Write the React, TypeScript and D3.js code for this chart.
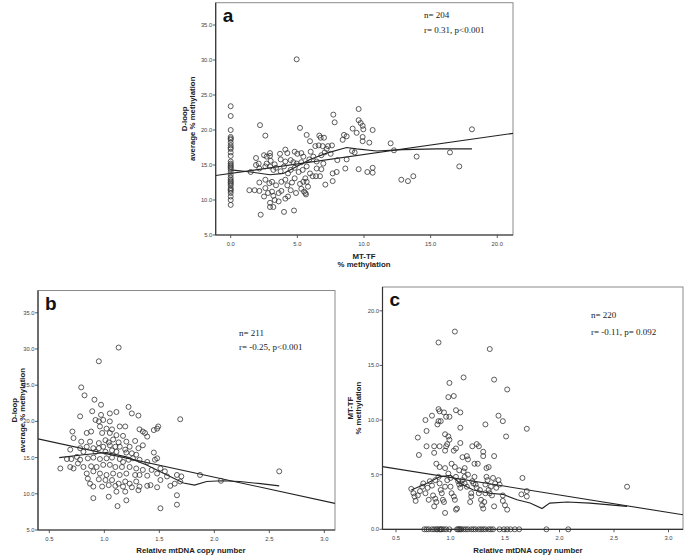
import * as d3 from "d3";

type Pt = [number, number];

// ---- panel a: D-loop vs MT-TF methylation ----
const mttfZero = [23.4, 22.0, 20.0, 19.0, 18.8, 18.6, 18.2, 17.8, 17.5, 17.3, 16.8, 16.3, 15.5, 15.2, 15.0,
  14.8, 14.6, 14.4, 14.0, 13.6, 13.2, 12.9, 12.7, 12.5, 12.3, 12.1, 11.7, 11.5, 11.3, 11.0, 10.5, 10.0, 9.3];

const dloopVsMttf: Pt[] = [
  [2.95, 16.7], [3.7, 16.6], [4.1, 17.2], [4.25, 16.7], [4.8, 16.9], [5.0, 16.6], [5.3, 16.7], [5.45, 16.2],
  [6.0, 16.9], [6.35, 17.7], [6.6, 17.8], [6.9, 17.7], [7.05, 16.8], [7.2, 17.3],
  [1.9, 16.0], [2.5, 16.4], [2.7, 16.2], [2.95, 16.3], [2.1, 15.2], [2.7, 15.2], [3.0, 15.6], [3.3, 15.1],
  [3.75, 15.8], [4.1, 15.5], [4.5, 15.7], [4.7, 15.4], [4.95, 15.2], [5.3, 15.4], [5.9, 15.8], [6.2, 16.2], [6.45, 15.5],
  [1.9, 15.0], [2.15, 14.5], [2.6, 14.8], [2.95, 14.8], [3.2, 14.3], [3.4, 14.6], [3.75, 14.1], [4.0, 14.8],
  [4.3, 13.8], [4.5, 14.3], [4.8, 14.6], [5.1, 14.0], [5.4, 14.3], [5.7, 14.8], [5.95, 13.8], [6.15, 13.4],
  [6.45, 14.5], [6.8, 14.4],
  [2.15, 12.5], [2.6, 12.9], [2.9, 12.4], [3.1, 12.6], [3.4, 12.1], [3.8, 12.6], [4.1, 12.9], [4.25, 12.1],
  [4.6, 12.5], [4.8, 13.1], [5.2, 12.3], [5.45, 12.6], [5.6, 13.1],
  [1.4, 11.4], [1.8, 11.4], [2.15, 11.3], [2.6, 11.7], [2.8, 11.0], [3.1, 11.2], [3.2, 10.6], [3.6, 11.0],
  [3.8, 11.3], [4.1, 10.2], [4.3, 10.5], [4.5, 11.4], [4.9, 11.0], [5.3, 11.6], [5.5, 11.2], [5.65, 10.8],
  [2.95, 9.6], [3.2, 9.0], [3.3, 10.0], [3.6, 9.8], [4.0, 8.3], [4.75, 8.5], [2.25, 7.9], [1.5, 14.0],
  [4.95, 30.1], [2.2, 20.7], [2.6, 19.2], [5.2, 20.3], [5.7, 19.3], [5.95, 18.4], [6.65, 19.2], [6.75, 18.9],
  [7.0, 18.9], [7.7, 22.2], [7.8, 21.1], [8.5, 19.3], [8.7, 19.1], [8.4, 18.6], [9.6, 23.0], [9.6, 21.4],
  [9.75, 21.0], [9.9, 20.6], [9.95, 20.1], [9.15, 20.2], [9.45, 19.6], [10.65, 20.0], [9.9, 19.0], [9.9, 18.4],
  [10.4, 18.2], [12.0, 18.1], [12.25, 17.1], [18.1, 20.1], [16.45, 16.8], [17.15, 14.8], [13.95, 16.2],
  [13.7, 13.4], [13.3, 12.7], [12.8, 12.9], [10.65, 14.6], [10.65, 13.9], [10.25, 14.0], [9.6, 14.4],
  [9.1, 17.0], [9.3, 16.8], [7.6, 17.8], [7.3, 17.7], [7.65, 13.8], [7.95, 14.0], [7.65, 12.7], [7.1, 12.2],
  [6.7, 13.4], [6.4, 13.4], [8.0, 15.7], [8.7, 15.8], [8.6, 14.5], [6.8, 16.4], [5.7, 12.6], [5.8, 11.9],
  [5.6, 11.0], [7.5, 16.6], [6.95, 15.2], [2.5, 10.5], [2.95, 9.0],
];

const loessA: Pt[] = [
  [0, 14.3], [1.5, 14.0], [2.95, 13.6], [3.95, 13.8], [4.95, 14.8], [5.95, 15.8], [7.2, 16.7], [8.7, 17.5],
  [9.45, 17.3], [10.95, 17.0], [12.95, 17.2], [15.45, 17.3], [18.1, 17.3],
];

// ---- panel b: D-loop vs relative mtDNA copy number ----
const dloopVsCopy: Pt[] = [
  [0.79, 24.7], [0.82, 23.6], [0.91, 23.0], [0.97, 22.3],
  [0.78, 20.7], [0.89, 21.4], [0.97, 20.9], [1.05, 21.1], [1.11, 21.3], [1.22, 22.0], [1.25, 21.1], [1.31, 20.8],
  [0.92, 20.2], [0.95, 20.0], [0.99, 20.2], [1.05, 20.0], [0.96, 19.3], [1.02, 19.0], [1.07, 18.9], [1.14, 19.3],
  [1.19, 19.3], [1.32, 18.9], [1.35, 18.6], [1.45, 18.8], [1.49, 19.3], [1.48, 19.0], [1.69, 20.3], [0.71, 18.6],
  [0.84, 18.4], [0.88, 18.6], [0.98, 18.4], [1.05, 18.4], [1.11, 18.1], [1.17, 18.0], [1.37, 18.4], [1.39, 17.9],
  [0.72, 17.7], [0.79, 17.2], [0.87, 17.2], [0.95, 17.0], [1.01, 17.4], [1.04, 17.1], [1.08, 17.5], [1.13, 17.1],
  [1.20, 17.2], [1.28, 17.3], [0.78, 16.3], [0.84, 16.5], [0.90, 16.3], [0.95, 16.3], [0.99, 16.5], [1.05, 16.7],
  [1.10, 16.5], [1.14, 16.5], [1.19, 16.1], [1.23, 16.5], [1.31, 16.3], [1.35, 16.7], [0.69, 16.1], [0.81, 15.8],
  [0.92, 15.8], [1.01, 15.8], [1.07, 16.0], [1.11, 15.8], [1.20, 15.7], [1.25, 15.6], [1.29, 15.4], [1.45, 15.7],
  [1.48, 14.9],
  [0.60, 13.5], [0.66, 14.8], [0.70, 14.8], [0.75, 15.1], [0.78, 14.7], [0.85, 14.9], [0.90, 15.0], [0.96, 14.8],
  [1.02, 14.9], [1.07, 15.0], [1.14, 14.8], [1.17, 14.4], [1.22, 14.7], [1.26, 14.9], [1.32, 14.7], [1.39, 14.4],
  [1.46, 14.7], [0.69, 13.7], [0.72, 13.5], [0.76, 14.2], [0.81, 13.7], [0.88, 13.8], [0.93, 13.7], [0.99, 14.0],
  [1.05, 14.0], [1.10, 13.7], [1.16, 13.7], [1.23, 13.7], [1.29, 13.5], [1.35, 13.3], [1.43, 13.3], [1.51, 13.5],
  [1.55, 13.1], [0.84, 12.8], [0.90, 13.1], [0.96, 12.8], [1.02, 12.6], [1.08, 12.8], [1.14, 12.6], [1.20, 12.8],
  [1.28, 12.6], [1.32, 12.6], [1.39, 12.5], [1.48, 12.8], [1.57, 12.4], [1.66, 12.6], [1.70, 12.4],
  [0.85, 12.1], [0.87, 11.4], [0.95, 12.0], [1.01, 11.9], [1.07, 11.9], [1.13, 11.4], [1.19, 11.7], [1.23, 11.4],
  [1.29, 11.7], [1.32, 11.0], [1.39, 11.1], [0.90, 11.0], [0.98, 11.0], [1.04, 11.2], [1.10, 11.1], [1.17, 11.0],
  [1.25, 10.9], [1.31, 10.5], [1.42, 11.2], [1.48, 10.9], [1.51, 11.9], [1.60, 11.1], [1.64, 11.4], [1.69, 11.7],
  [0.90, 9.4], [1.04, 9.6], [1.11, 10.3], [1.20, 9.1], [1.19, 10.3], [1.66, 9.8], [1.12, 8.3], [1.51, 8.0],
  [1.66, 8.5],
  [1.13, 30.2], [0.95, 28.3], [1.87, 12.6], [2.06, 11.8], [2.59, 13.1],
];

const loessB: Pt[] = [
  [0.59, 15.0], [0.81, 15.4], [1.02, 15.7], [1.2, 15.1], [1.38, 14.0], [1.57, 12.6], [1.72, 11.5],
  [1.82, 11.2], [1.93, 11.7], [2.07, 11.8], [2.23, 11.7], [2.42, 11.4], [2.59, 11.1],
];

// ---- panel c: MT-TF vs relative mtDNA copy number ----
const mttfZeroCopy = [0.76, 0.78, 0.80, 0.83, 0.85, 0.87, 0.88, 0.90, 0.91, 0.92, 0.94, 0.96, 0.99, 1.06, 1.07,
  1.08, 1.09, 1.10, 1.12, 1.14, 1.16, 1.19, 1.21, 1.23, 1.26, 1.28, 1.30, 1.32, 1.35, 1.37, 1.39, 1.45, 1.49,
  1.52, 1.55, 1.59, 1.63, 1.88, 2.08];

const mttfVsCopy: Pt[] = [
  [1.04, 18.1], [0.89, 17.1], [1.36, 16.5], [1.12, 13.9], [1.40, 13.7], [0.99, 13.4], [1.52, 12.8], [0.98, 12.1],
  [1.03, 12.2], [0.89, 11.0], [0.90, 10.8], [0.94, 10.7], [1.05, 10.9], [1.09, 10.7], [0.77, 10.0], [0.83, 10.4],
  [0.89, 9.9], [0.91, 9.9], [0.88, 9.6], [0.96, 10.3], [0.99, 10.3], [0.78, 9.0], [1.09, 9.3], [1.32, 9.6],
  [1.44, 10.4], [1.48, 9.9], [1.70, 9.2], [0.70, 8.4], [0.95, 8.7], [0.98, 8.5], [0.99, 8.2], [1.51, 8.5],
  [0.78, 7.6], [0.85, 7.6], [0.90, 7.6], [0.96, 7.6], [0.97, 7.8], [0.71, 6.8], [0.85, 7.0], [0.95, 7.2],
  [1.03, 7.2], [1.09, 7.9], [1.05, 7.4], [1.20, 7.6], [1.24, 7.8], [1.26, 7.6], [1.30, 7.1], [1.30, 6.7],
  [1.40, 6.7], [1.11, 6.6], [1.15, 6.7], [1.16, 6.4], [1.22, 6.0], [1.25, 6.0], [1.33, 5.6], [1.35, 5.7],
  [1.66, 4.7], [1.70, 3.5], [1.70, 3.0], [1.65, 3.2], [1.48, 2.6], [1.50, 2.2], [1.52, 1.8], [1.40, 2.1],
  [0.95, 1.5], [1.05, 1.8], [0.85, 2.1], [2.62, 3.9],
  [0.87, 6.0], [0.90, 5.7], [0.95, 5.6], [1.01, 6.0], [1.04, 5.7], [1.08, 5.4], [1.13, 5.6],
  [0.64, 3.7], [0.66, 3.3], [0.67, 3.0], [0.68, 2.6], [0.70, 3.1], [0.72, 3.5], [0.74, 3.9], [0.75, 4.2],
  [0.77, 3.3], [0.79, 3.8], [0.80, 2.7], [0.81, 4.4], [0.83, 4.0], [0.84, 3.1], [0.86, 2.8], [0.87, 2.5],
  [0.86, 4.5], [0.89, 4.8], [0.90, 4.2], [0.91, 3.6], [0.92, 3.3], [0.93, 2.7], [0.94, 2.5], [0.95, 3.9],
  [0.97, 4.5], [0.98, 5.1], [1.00, 4.7], [1.00, 3.9], [1.01, 3.3], [1.03, 3.0], [1.04, 2.7], [1.06, 1.9],
  [1.05, 4.8], [1.07, 4.4], [1.08, 4.1], [1.09, 3.8], [1.10, 4.2], [1.11, 4.5], [1.12, 5.3], [1.13, 4.8],
  [1.13, 4.2], [1.15, 3.9], [1.16, 5.0], [1.18, 2.5], [1.19, 3.3], [1.19, 3.0], [1.20, 4.4], [1.21, 4.2],
  [1.22, 4.8], [1.23, 4.1], [1.24, 3.8], [1.26, 3.3], [1.27, 3.6], [1.28, 2.7], [1.29, 2.2], [1.30, 1.9],
  [1.31, 2.5], [1.32, 3.3], [1.33, 4.8], [1.34, 4.5], [1.35, 3.6], [1.36, 3.3], [1.37, 3.9], [1.38, 3.1],
  [1.39, 4.7], [1.41, 4.2], [1.42, 3.8], [1.44, 4.5], [1.45, 4.1], [1.48, 3.1], [1.32, 4.1],
];

const loessC: Pt[] = [
  [0.64, 3.6], [0.78, 4.2], [0.9, 4.8], [1.0, 4.95], [1.09, 4.2], [1.21, 3.6], [1.36, 3.3], [1.48, 3.2],
  [1.61, 2.7], [1.73, 2.4], [1.84, 1.9], [1.91, 2.4], [2.07, 2.5], [2.28, 2.4], [2.62, 2.1],
];

// linear fits: [intercept, slope]
const fitA = [13.8, 0.27];
const fitB = [18.9, -3.3];
const fitC = [6.34, -1.6];

const yTicksDloop = [5, 10, 15, 20, 25, 30, 35];
const xTicksMttf = [0, 5, 10, 15, 20];
const xTicksCopy = [0.5, 1, 1.5, 2, 2.5, 3];
const yTicksMttf = [0, 5, 10, 15, 20];

const fmt = d3.format(".1f");
const SANS = "'Liberation Sans', Arial, sans-serif";
const SERIF = "'Liberation Serif', 'Times New Roman', serif";

type PanelProps = {
  box: { l: number; r: number; t: number; b: number };
  xDomain: [number, number];
  yDomain: [number, number];
  xTicks: number[];
  yTicks: number[];
  points: Pt[];
  fit: number[];
  loess: Pt[];
  letter: string;
  stats: string[];
  statsPos: [number, number, number];
  yTitle: string[];
  yTitleOff: [number, number];
  xTitle: string[];
  xTitleX: number;
  xTitleY: number[];
};

const Panel = (p: PanelProps) => {
  const { box } = p;
  const x = d3.scaleLinear().domain(p.xDomain).range([box.l, box.r]);
  const y = d3.scaleLinear().domain(p.yDomain).range([box.b, box.t]);
  const line = d3.line<Pt>().x((d) => x(d[0])).y((d) => y(d[1]));
  const fitPts: Pt[] = p.xDomain.map((v) => [v, p.fit[0] + p.fit[1] * v] as Pt);
  const yMid = (box.t + box.b) / 2;

  return (
    <g>
      <rect x={box.l} y={box.t} width={box.r - box.l} height={box.b - box.t} fill="white" stroke="#8a8a8a" strokeWidth={1} />
      <clipPath id={`clip-${p.letter}`}>
        <rect x={box.l} y={box.t} width={box.r - box.l} height={box.b - box.t} />
      </clipPath>
      <g clipPath={`url(#clip-${p.letter})`}>
        <path d={line(fitPts) ?? ""} fill="none" stroke="#222" strokeWidth={1.1} />
        <path d={line(p.loess) ?? ""} fill="none" stroke="#222" strokeWidth={1.1} />
      </g>
      {p.points.map((d, i) => (
        <circle key={i} cx={x(d[0])} cy={y(d[1])} r={2.5} fill="none" stroke="#333" strokeWidth={0.8} />
      ))}
      <line x1={box.l} x2={box.l} y1={box.t} y2={box.b} stroke="#333" strokeWidth={1.2} />
      <line x1={box.l} x2={box.r} y1={box.b} y2={box.b} stroke="#333" strokeWidth={1.2} />
      {p.yTicks.map((t) => (
        <g key={t}>
          <line x1={box.l - 3} x2={box.l} y1={y(t)} y2={y(t)} stroke="#333" strokeWidth={0.8} />
          <text x={box.l - 3.5} y={y(t) + 2} textAnchor="end" fontSize={5.8} fontFamily={SANS} fill="#444">
            {fmt(t)}
          </text>
        </g>
      ))}
      {p.xTicks.map((t) => (
        <g key={t}>
          <line x1={x(t)} x2={x(t)} y1={box.b} y2={box.b + 3} stroke="#333" strokeWidth={0.8} />
          <text x={x(t)} y={box.b + 10.5} textAnchor="middle" fontSize={5.8} fontFamily={SANS} fill="#444">
            {fmt(t)}
          </text>
        </g>
      ))}
      <text x={box.l + 7} y={box.t + 19} fontSize={19} fontWeight="bold" fontFamily={SANS} fill="#111">
        {p.letter}
      </text>
      {p.stats.map((s, i) => (
        <text key={s} x={p.statsPos[0]} y={p.statsPos[1] + i * p.statsPos[2]} fontSize={9} fontFamily={SERIF} fill="#222">
          {s}
        </text>
      ))}
      {p.yTitle.map((s, i) => (
        <text
          key={s}
          transform={`translate(${box.l + p.yTitleOff[i]},${yMid}) rotate(-90)`}
          textAnchor="middle"
          fontSize={7.8}
          fontWeight="bold"
          fontFamily={SANS}
          fill="#222"
        >
          {s}
        </text>
      ))}
      {p.xTitle.map((s, i) => (
        <text key={s} x={p.xTitleX} y={p.xTitleY[i]} textAnchor="middle" fontSize={7.8} fontWeight="bold" fontFamily={SANS} fill="#222">
          {s}
        </text>
      ))}
    </g>
  );
};

export default function App() {
  const pointsA: Pt[] = [...mttfZero.map((v) => [0, v] as Pt), ...dloopVsMttf];
  const pointsC: Pt[] = [...mttfZeroCopy.map((v) => [v, 0] as Pt), ...mttfVsCopy];
  return (
    <svg width={685} height={557} style={{ position: "absolute", left: 0, top: 0, background: "white" }}>
      <Panel
        box={{ l: 215.7, r: 513, t: 2.7, b: 235 }}
        xDomain={[-1.125, 21.18]}
        yDomain={[5, 38.19]}
        xTicks={xTicksMttf}
        yTicks={yTicksDloop}
        points={pointsA}
        fit={fitA}
        loess={loessA}
        letter="a"
        stats={["n= 204", "r= 0.31, p<0.001"]}
        statsPos={[424, 18, 15]}
        yTitle={["D-loop", "average % methylation"]}
        yTitleOff={[-29, -21]}
        xTitle={["MT-TF", "% methylation"]}
        xTitleX={364}
        xTitleY={[259, 266.5]}
      />
      <Panel
        box={{ l: 38, r: 335, t: 290.5, b: 530 }}
        xDomain={[0.397, 3.097]}
        yDomain={[5, 38.08]}
        xTicks={xTicksCopy}
        yTicks={yTicksDloop}
        points={dloopVsCopy}
        fit={fitB}
        loess={loessB}
        letter="b"
        stats={["n= 211", "r= -0.25, p<0.001"]}
        statsPos={[239, 336, 14]}
        yTitle={["D-loop", "average % methylation"]}
        yTitleOff={[-21, -13]}
        xTitle={["Relative mtDNA copy number"]}
        xTitleX={191}
        xTitleY={[553]}
      />
      <Panel
        box={{ l: 382.5, r: 683, t: 287, b: 529.3 }}
        xDomain={[0.376, 3.133]}
        yDomain={[0, 22.18]}
        xTicks={xTicksCopy}
        yTicks={yTicksMttf}
        points={pointsC}
        fit={fitC}
        loess={loessC}
        letter="c"
        stats={["n= 220", "r= -0.11, p= 0.092"]}
        statsPos={[591, 318, 17]}
        yTitle={["MT-TF", "% methylation"]}
        yTitleOff={[-29.5, -21.5]}
        xTitle={["Relative mtDNA copy number"]}
        xTitleX={528}
        xTitleY={[553]}
      />
    </svg>
  );
}
